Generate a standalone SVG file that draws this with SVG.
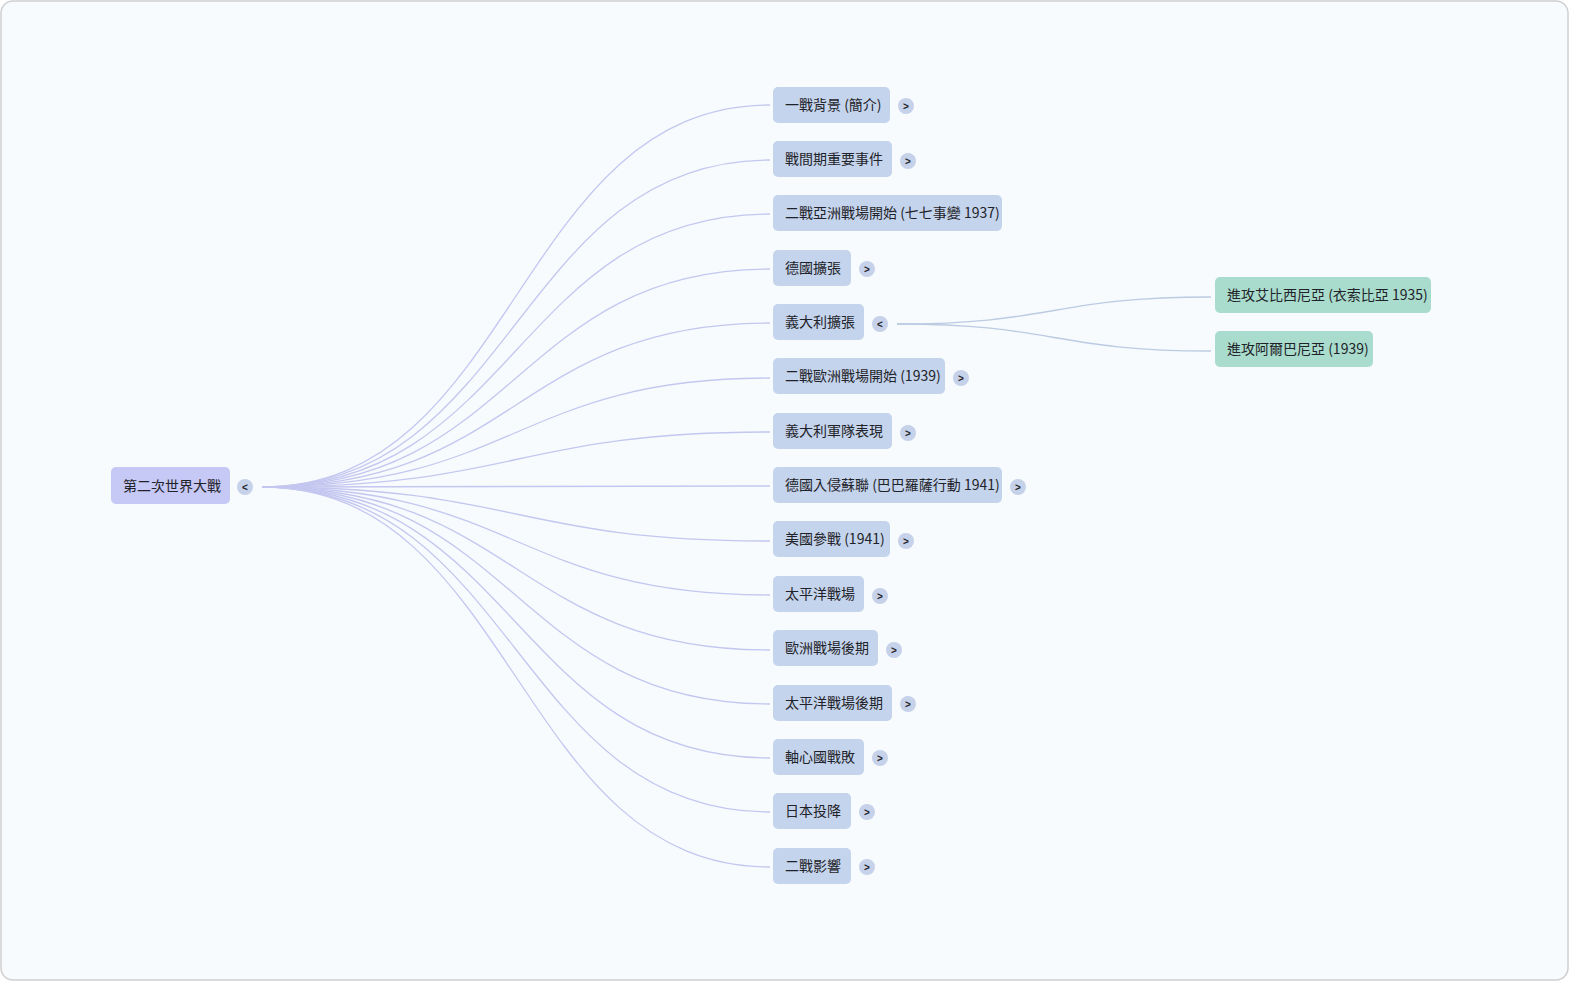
<svg xmlns="http://www.w3.org/2000/svg" width="1570" height="982" viewBox="0 0 1570 982">
<style>
text{font-family:"Noto Sans CJK TC","Noto Sans",sans-serif;font-size:14px;fill:#1f2329;dominant-baseline:central}
.root rect{fill:#c6c8f6}
.child rect{fill:#c4d4ec}
.gc rect{fill:#a9dccd}
.tg circle{fill:#c6d1ea}
.tg text{font-family:"Liberation Sans",sans-serif;font-size:10px;font-weight:bold;text-anchor:middle}
.edges path{fill:none;stroke:#c4c7ef;stroke-width:1.3}
.edges path.e2{stroke:#bccbe2}
</style>
<rect x="1" y="1" width="1567" height="979" rx="12" fill="#f7fbfe" stroke="#cfcfcf" stroke-width="1.5"/>
<g class="edges" id="connectors">
<path d="M262 487 C516 487 516 105 770 105"/>
<path d="M262 487 C516 487 516 160 770 160"/>
<path d="M262 487 C516 487 516 214 770 214"/>
<path d="M262 487 C516 487 516 269 770 269"/>
<path d="M262 487 C516 487 516 323 770 323"/>
<path d="M262 487 C516 487 516 378 770 378"/>
<path d="M262 487 C516 487 516 432 770 432"/>
<path d="M262 487 C516 487 516 486 770 486"/>
<path d="M262 487 C516 487 516 541 770 541"/>
<path d="M262 487 C516 487 516 595 770 595"/>
<path d="M262 487 C516 487 516 650 770 650"/>
<path d="M262 487 C516 487 516 704 770 704"/>
<path d="M262 487 C516 487 516 758 770 758"/>
<path d="M262 487 C516 487 516 812 770 812"/>
<path d="M262 487 C516 487 516 867 770 867"/>
<path class="e2" d="M897 324 C1054 324 1054 297 1211 297"/>
<path class="e2" d="M897 324 C1054 324 1054 351 1211 351"/>
</g>
<g id="root" class="root"><rect x="111" y="467" width="119" height="37" rx="5"/><text x="123" y="485">第二次世界大戰</text></g>
<g id="root-toggle" class="tg"><circle cx="245" cy="487" r="8"/><text x="245" y="487">&lt;</text></g>

<g id="n1" class="child"><rect x="773" y="87" width="117" height="36" rx="5"/><text x="785" y="104">一戰背景 (簡介)</text></g>
<g class="tg"><circle cx="906" cy="106" r="8"/><text x="906" y="106">&gt;</text></g>

<g id="n2" class="child"><rect x="773" y="141" width="119" height="36" rx="5"/><text x="785" y="158">戰間期重要事件</text></g>
<g class="tg"><circle cx="908" cy="161" r="8"/><text x="908" y="161">&gt;</text></g>

<g id="n3" class="child"><rect x="773" y="195" width="229" height="36" rx="5"/><text x="785" y="212">二戰亞洲戰場開始 (七七事變 1937)</text></g>

<g id="n4" class="child"><rect x="773" y="250" width="78" height="36" rx="5"/><text x="785" y="267">德國擴張</text></g>
<g class="tg"><circle cx="867" cy="269" r="8"/><text x="867" y="269">&gt;</text></g>

<g id="n5" class="child"><rect x="773" y="304" width="91" height="36" rx="5"/><text x="785" y="321">義大利擴張</text></g>
<g class="tg"><circle cx="880" cy="324" r="8"/><text x="880" y="324">&lt;</text></g>

<g id="n6" class="child"><rect x="773" y="358" width="172" height="36" rx="5"/><text x="785" y="375">二戰歐洲戰場開始 (1939)</text></g>
<g class="tg"><circle cx="961" cy="378" r="8"/><text x="961" y="378">&gt;</text></g>

<g id="n7" class="child"><rect x="773" y="413" width="119" height="36" rx="5"/><text x="785" y="430">義大利軍隊表現</text></g>
<g class="tg"><circle cx="908" cy="433" r="8"/><text x="908" y="433">&gt;</text></g>

<g id="n8" class="child"><rect x="773" y="467" width="229" height="36" rx="5"/><text x="785" y="484">德國入侵蘇聯 (巴巴羅薩行動 1941)</text></g>
<g class="tg"><circle cx="1018" cy="487" r="8"/><text x="1018" y="487">&gt;</text></g>

<g id="n9" class="child"><rect x="773" y="521" width="117" height="36" rx="5"/><text x="785" y="538">美國參戰 (1941)</text></g>
<g class="tg"><circle cx="906" cy="541" r="8"/><text x="906" y="541">&gt;</text></g>

<g id="n10" class="child"><rect x="773" y="576" width="91" height="36" rx="5"/><text x="785" y="593">太平洋戰場</text></g>
<g class="tg"><circle cx="880" cy="596" r="8"/><text x="880" y="596">&gt;</text></g>

<g id="n11" class="child"><rect x="773" y="630" width="105" height="36" rx="5"/><text x="785" y="647">歐洲戰場後期</text></g>
<g class="tg"><circle cx="894" cy="650" r="8"/><text x="894" y="650">&gt;</text></g>

<g id="n12" class="child"><rect x="773" y="685" width="119" height="36" rx="5"/><text x="785" y="702">太平洋戰場後期</text></g>
<g class="tg"><circle cx="908" cy="704" r="8"/><text x="908" y="704">&gt;</text></g>

<g id="n13" class="child"><rect x="773" y="739" width="91" height="36" rx="5"/><text x="785" y="756">軸心國戰敗</text></g>
<g class="tg"><circle cx="880" cy="758" r="8"/><text x="880" y="758">&gt;</text></g>

<g id="n14" class="child"><rect x="773" y="793" width="78" height="36" rx="5"/><text x="785" y="810">日本投降</text></g>
<g class="tg"><circle cx="867" cy="812" r="8"/><text x="867" y="812">&gt;</text></g>

<g id="n15" class="child"><rect x="773" y="848" width="78" height="36" rx="5"/><text x="785" y="865">二戰影響</text></g>
<g class="tg"><circle cx="867" cy="867" r="8"/><text x="867" y="867">&gt;</text></g>

<g id="g1" class="gc"><rect x="1215" y="277" width="216" height="36" rx="5"/><text x="1227" y="294">進攻艾比西尼亞 (衣索比亞 1935)</text></g>
<g id="g2" class="gc"><rect x="1215" y="331" width="158" height="36" rx="5"/><text x="1227" y="348">進攻阿爾巴尼亞 (1939)</text></g>
</svg>
